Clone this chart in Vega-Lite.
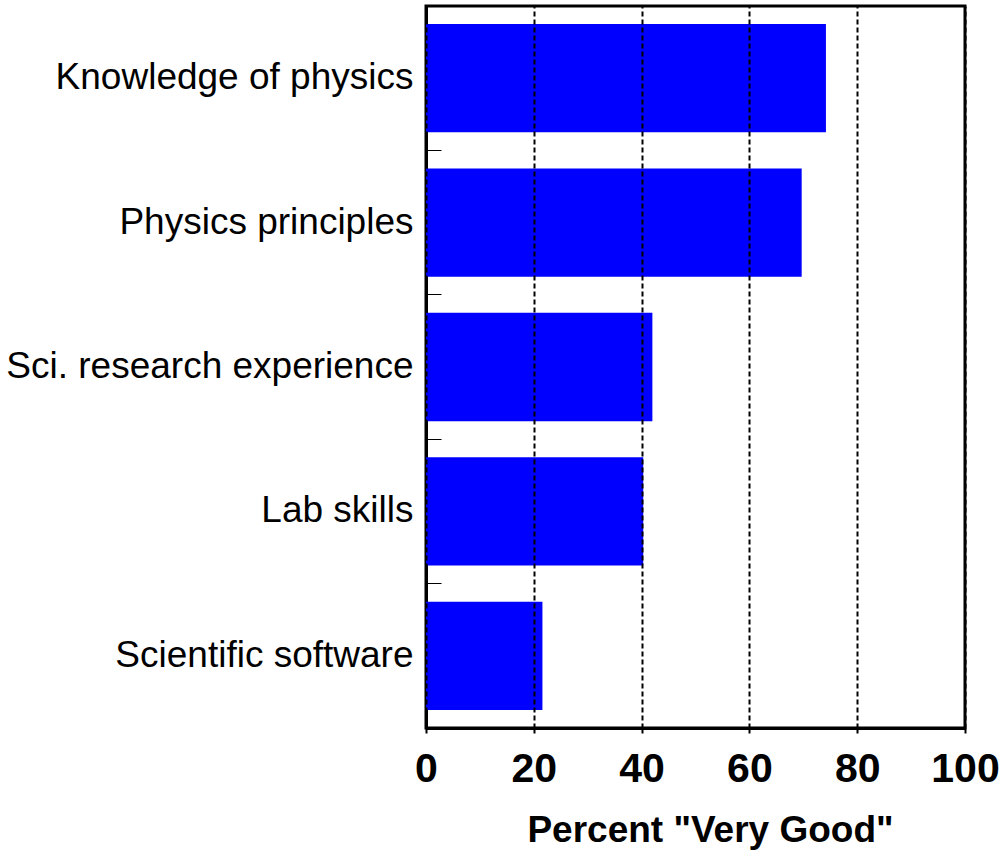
{
  "$schema": "https://vega.github.io/schema/vega-lite/v6.json",
  "width": 539,
  "height": 722,
  "padding": {"left": 426, "top": 6, "right": 40, "bottom": 125},
  "autosize": {"type": "none"},
  "background": "white",
  "config": {
    "view": {"stroke": "black", "strokeWidth": 3},
    "font": "Liberation Sans"
  },
  "data": {
    "values": [
      {"skill": "Knowledge of physics", "pct": 74.2},
      {"skill": "Physics principles", "pct": 69.7},
      {"skill": "Sci. research experience", "pct": 42.0},
      {"skill": "Lab skills", "pct": 40.3},
      {"skill": "Scientific software", "pct": 21.6}
    ]
  },
  "mark": {"type": "bar", "color": "#0000FF"},
  "encoding": {
    "y": {
      "field": "skill",
      "type": "nominal",
      "sort": null,
      "scale": {"paddingInner": 0.25, "paddingOuter": 0.125},
      "axis": {
        "title": null,
        "domain": true,
        "domainColor": "black",
        "domainWidth": 3,
        "ticks": true,
        "bandPosition": 1.1667,
        "tickSize": -15,
        "tickColor": "black",
        "tickWidth": 1,
        "labelPadding": 28,
        "labelFontSize": 37,
        "labelColor": "black",
        "labelFont": "Liberation Sans",
        "labelLimit": 600,
        "grid": false
      }
    },
    "x": {
      "field": "pct",
      "type": "quantitative",
      "scale": {"domain": [0, 100], "nice": false},
      "axis": {
        "title": "Percent \"Very Good\"",
        "titleFontSize": 37,
        "titleFontWeight": "bold",
        "titleColor": "black",
        "titleFont": "Liberation Sans",
        "titlePadding": 23,
        "titleX": 284,
        "values": [0, 20, 40, 60, 80, 100],
        "domainColor": "black",
        "domainWidth": 3,
        "tickColor": "black",
        "tickWidth": 2,
        "tickSize": 5,
        "labelPadding": 16,
        "labelFontSize": 41,
        "labelFontWeight": "bold",
        "labelColor": "black",
        "labelFont": "Liberation Sans",
        "labelFlush": false,
        "grid": true,
        "gridColor": "black",
        "gridWidth": 2,
        "gridDash": [5, 3],
        "gridOpacity": 1,
        "zindex": 1
      }
    }
  }
}
